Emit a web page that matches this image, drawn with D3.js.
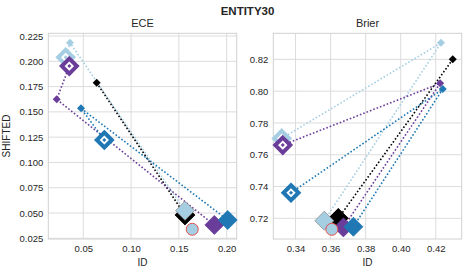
<!DOCTYPE html>
<html>
<head>
<meta charset="utf-8">
<script src="https://cdn.jsdelivr.net/npm/d3@7"></script>
<style>
  body { margin: 0; background: #fff; }
  svg text { font-family: "Liberation Sans", Arial, sans-serif; fill: #262626; }
</style>
</head>
<body>
<div id="chart"></div>
<script>
// series order / colours
const seriesNames = ["black", "lightblue", "purple", "blue"]
const seriesColors = ["#000000", "#a6cee3", "#6a3d9a", "#1f78b4"]

// ECE panel: [id, shifted] for start (hollow), small, end (filled)
const eceStart = [[0.1564, 0.0480], [0.0316, 0.2039], [0.0354, 0.1953], [0.0720, 0.1222]]
const eceSmall = [[0.0640, 0.1788], [0.0361, 0.2184], [0.0222, 0.1624], [0.0476, 0.1535]]
const eceEnd = [[0.1564, 0.0480], [0.1564, 0.0523], [0.1871, 0.0382], [0.2011, 0.0431]]
const eceRef = [0.1640, 0.0339]

// Brier panel
const brierStart = [[0.3644, 0.7200], [0.3321, 0.7703], [0.3327, 0.7661], [0.3374, 0.7361]]
const brierSmall = [[0.4297, 0.8200], [0.4230, 0.8304], [0.4225, 0.8049], [0.4240, 0.8013]]
const brierEnd = [[0.3644, 0.7200], [0.3564, 0.7185], [0.3673, 0.7143], [0.3730, 0.7147]]
const brierRef = [0.3607, 0.7131]

const eceXTicks = [0.05, 0.10, 0.15, 0.20]
const eceYTicks = [0.025, 0.050, 0.075, 0.100, 0.125, 0.150, 0.175, 0.200, 0.225]
const brierXTicks = [0.34, 0.36, 0.38, 0.40, 0.42]
const brierYTicks = [0.72, 0.74, 0.76, 0.78, 0.80, 0.82]

const width = 468, height = 273
const svg = d3.select("#chart").append("svg")
    .attr("width", width)
    .attr("height", height)

svg.append("text")
    .attr("x", 247.5).attr("y", 15)
    .attr("text-anchor", "middle")
    .style("font-weight", "bold")
    .style("font-size", "11.5px")
    .text("ENTITY30")

function diamond(g, cx, cy, r, fill, stroke, sw) {
    g.append("path")
        .attr("d", `M${cx},${cy - r}L${cx + r},${cy}L${cx},${cy + r}L${cx - r},${cy}Z`)
        .attr("fill", fill)
        .attr("stroke", stroke)
        .attr("stroke-width", sw)
}

function panel(cfg) {
    let x = d3.scaleLinear().domain(cfg.xDomain).range([cfg.left, cfg.right])
    let y = d3.scaleLinear().domain(cfg.yDomain).range([cfg.bottom, cfg.top])
    let g = svg.append("g")

    // grid
    g.append("g").selectAll("line").data(cfg.xTicks).join("line")
        .attr("x1", d => x(d)).attr("x2", d => x(d))
        .attr("y1", cfg.top).attr("y2", cfg.bottom)
        .attr("stroke", "#dcdcdc").attr("stroke-width", 1)
    g.append("g").selectAll("line").data(cfg.yTicks).join("line")
        .attr("x1", cfg.left).attr("x2", cfg.right)
        .attr("y1", d => y(d)).attr("y2", d => y(d))
        .attr("stroke", "#dcdcdc").attr("stroke-width", 1)
    g.append("rect")
        .attr("x", cfg.left).attr("y", cfg.top)
        .attr("width", cfg.right - cfg.left).attr("height", cfg.bottom - cfg.top)
        .attr("fill", "none").attr("stroke", "#d0d0d0").attr("stroke-width", 1)

    // axes via d3 axes, then strip lines
    let xAxis = g.append("g")
        .attr("transform", `translate(0,${cfg.bottom})`)
        .call(d3.axisBottom(x).tickValues(cfg.xTicks).tickFormat(d3.format(".2f")).tickSize(0).tickPadding(6))
    let yAxis = g.append("g")
        .attr("transform", `translate(${cfg.left},0)`)
        .call(d3.axisLeft(y).tickValues(cfg.yTicks).tickFormat(d3.format(cfg.yFormat)).tickSize(0).tickPadding(5))
    xAxis.select(".domain").remove()
    yAxis.select(".domain").remove()
    g.selectAll(".tick text").attr("fill", "#262626").style("font-size", "9.5px")
        .style("font-family", "Liberation Sans, Arial, sans-serif")

    g.append("text")
        .attr("x", (cfg.left + cfg.right) / 2).attr("y", 27)
        .attr("text-anchor", "middle").style("font-size", "11px")
        .text(cfg.title)
    g.append("text")
        .attr("x", (cfg.left + cfg.right) / 2).attr("y", 266)
        .attr("text-anchor", "middle").style("font-size", "10px")
        .text("ID")

    // dotted paths start -> small -> end (skip start when it sits on end)
    for (let k = 0; k < seriesNames.length; k++) {
        let s = cfg.start[k], e = cfg.end[k]
        let pts = (s[0] == e[0] && s[1] == e[1]) ? [cfg.small[k], e] : [s, cfg.small[k], e]
        let line = d3.line().x(d => x(d[0])).y(d => y(d[1]))
        g.append("path")
            .datum(pts)
            .attr("fill", "none")
            .attr("stroke", seriesColors[k])
            .attr("stroke-width", 1.6)
            .attr("stroke-dasharray", "1.6,2")
            .attr("d", line)
    }
    // start markers: outlined diamonds with a dot
    for (let k = 0; k < seriesNames.length; k++) {
        let p = cfg.start[k]
        diamond(g, x(p[0]), y(p[1]), 7.5, "#fff", seriesColors[k], 4)
        diamond(g, x(p[0]), y(p[1]), 2, seriesColors[k], "none", 0)
    }
    // small markers
    for (let k = 0; k < seriesNames.length; k++) {
        let p = cfg.small[k]
        diamond(g, x(p[0]), y(p[1]), 4, seriesColors[k], "none", 0)
    }
    // end markers: big filled diamonds
    for (let k = 0; k < seriesNames.length; k++) {
        let p = cfg.end[k]
        let edge = seriesNames[k] == "lightblue" ? "#8a8a8a" : seriesColors[k]
        diamond(g, x(p[0]), y(p[1]), 9.5, seriesColors[k], edge, 0.8)
    }
    // reference point
    g.append("circle")
        .attr("cx", x(cfg.ref[0])).attr("cy", y(cfg.ref[1]))
        .attr("r", 6)
        .attr("fill", "#a6cee3")
        .attr("stroke", "#e8413c")
        .attr("stroke-width", 0.9)
}

panel({
    title: "ECE", left: 48.3, right: 236.7, top: 33.3, bottom: 239,
    xDomain: [0.0134, 0.2105], yDomain: [0.0243, 0.2277],
    xTicks: eceXTicks, yTicks: eceYTicks, yFormat: ".3f",
    start: eceStart, small: eceSmall, end: eceEnd, ref: eceRef
})
panel({
    title: "Brier", left: 273.3, right: 461.7, top: 33.3, bottom: 239,
    xDomain: [0.3273, 0.4348], yDomain: [0.707, 0.8364],
    xTicks: brierXTicks, yTicks: brierYTicks, yFormat: ".2f",
    start: brierStart, small: brierSmall, end: brierEnd, ref: brierRef
})

svg.append("text")
    .attr("transform", "translate(10,136) rotate(-90)")
    .attr("text-anchor", "middle").style("font-size", "10px")
    .text("SHIFTED")
</script>
</body>
</html>
